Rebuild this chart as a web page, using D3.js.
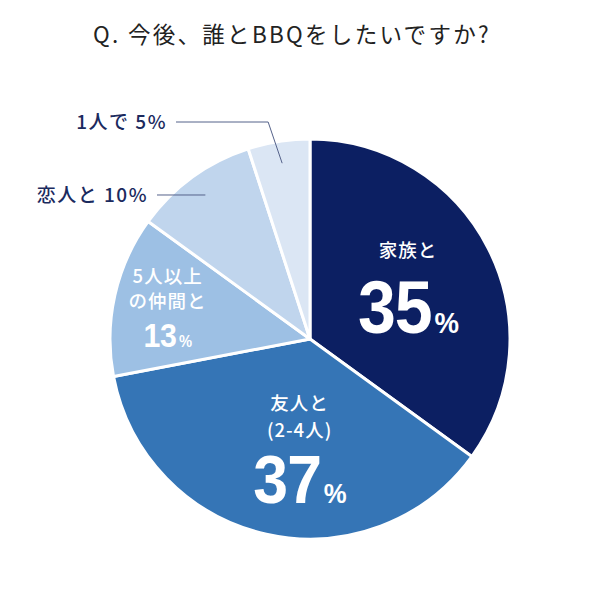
<html>
<head>
  <meta charset="utf-8">
  <script src="https://d3js.org/d3.v7.min.js"></script>
  <style>
    body { margin: 0; background: #fff; }
  </style>
</head>
<body>
<svg width="600" height="599"></svg>
<script>
  // data (clockwise from 12 o'clock)
  var categories = ["家族と", "友人と(2-4人)", "5人以上の仲間と", "恋人と", "1人で"];
  var values = [35, 37, 13, 10, 5];
  var colors = ["#0c1f62", "#3575b6", "#9dc0e4", "#c0d5ed", "#dbe6f4"];
  var title = "Q. 今後、誰とBBQをしたいですか?";

  var jp = "'Noto Sans CJK JP', 'Noto Sans', sans-serif";
  var num = "'Liberation Sans', Arial, sans-serif";

  var svg = d3.select("svg"),
      cx = 310, cy = 339, r = 200;

  svg.append("text")
    .attr("x", 93).attr("y", 43)
    .style("font-family", jp)
    .attr("font-size", 22.5)
    .attr("letter-spacing", 2.3)
    .attr("fill", "#222")
    .text(title);

  var pie = d3.pie().sort(null).value(function(d) { return d; });
  var arcs = pie(values);
  var arc = d3.arc().innerRadius(0).outerRadius(r);

  var g = svg.append("g").attr("transform", "translate(" + cx + "," + cy + ")");

  g.selectAll("path")
    .data(arcs)
    .enter().append("path")
      .attr("d", arc)
      .attr("fill", function(d, i) { return colors[i]; })
      .attr("stroke", "#fff")
      .attr("stroke-width", 3)
      .attr("stroke-linejoin", "round");

  // inside labels: radius of the label arc and small nudges per slice
  var inside = [
    { i: 0, rad: 110, dx: 0, lines: ["家族と"], big: 74, pct: 30, lineY: [-32], numY: 44 },
    { i: 1, rad: 112, dx: 14, lines: ["友人と", "(2-4人)"], big: 68, pct: 28, lineY: [-38, -11], numY: 55 },
    { i: 2, rad: 150, dx: 4, lines: ["5人以上", "の仲間と"], big: 33, pct: 16, lineY: [-23, 2], numY: 41 }
  ];

  inside.forEach(function(o) {
    var a = arcs[o.i];
    var c = d3.arc().innerRadius(o.rad).outerRadius(o.rad).centroid(a);
    var lg = g.append("g").attr("transform", "translate(" + (c[0] + o.dx) + "," + c[1] + ")")
      .attr("fill", "#fff").attr("text-anchor", "middle");
    o.lines.forEach(function(t, k) {
      lg.append("text").attr("y", o.lineY[k]).attr("font-size", 18.5)
        .style("font-family", jp)
        .attr("letter-spacing", 1)
        .attr("font-weight", 500).text(t);
    });
    // digits in the reference are a little condensed
    var t = lg.append("text")
      .attr("transform", "translate(0," + o.numY + ") scale(0.92,1)")
      .style("font-family", num)
      .attr("font-weight", "bold")
      .attr("letter-spacing", o.big > 40 ? -1 : -0.5);
    t.append("tspan").attr("font-size", o.big).text(a.data);
    t.append("tspan").attr("font-size", o.pct).attr("dx", 3).text("%");
  });

  // outside labels with leader lines
  var outside = [
    { i: 3, text: "恋人と 10%", elbowY: null, lineEndX: -153 },
    { i: 4, text: "1人で 5%", elbowY: -217, lineEndX: -134 }
  ];
  var leadArc = d3.arc().innerRadius(178).outerRadius(178);

  outside.forEach(function(o) {
    var p = leadArc.centroid(arcs[o.i]);
    var pts = [p];
    var y = p[1];
    if (o.elbowY !== null) {
      pts.push([p[0] - 14, o.elbowY]);
      y = o.elbowY;
    }
    pts.push([o.lineEndX, y]);
    g.append("path")
      .attr("d", d3.line()(pts))
      .attr("fill", "none")
      .attr("stroke", "#55628a")
      .attr("stroke-width", 1);
    g.append("text")
      .attr("x", o.lineEndX - 9).attr("y", y + 7)
      .attr("text-anchor", "end")
      .style("font-family", jp)
      .attr("font-size", 19)
      .attr("letter-spacing", 1.5)
      .attr("font-weight", 500)
      .attr("fill", "#1b2a5e")
      .text(o.text);
  });
</script>
</body>
</html>
